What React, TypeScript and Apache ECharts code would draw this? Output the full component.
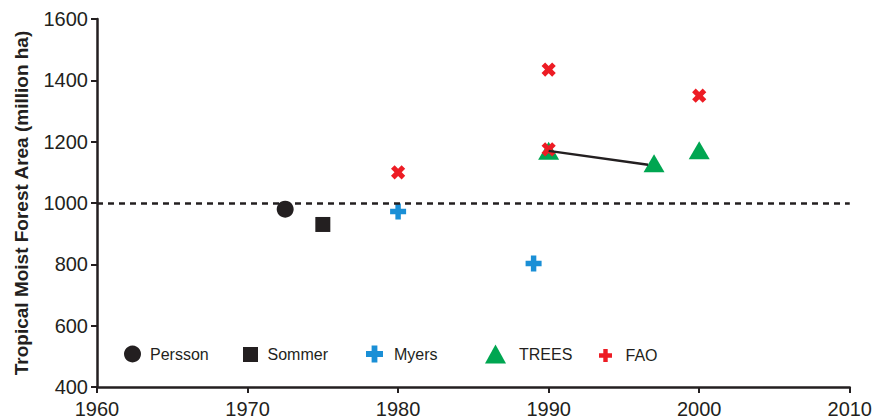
import React, { useEffect, useRef } from "react";
import * as echarts from "echarts";

const xTicks = [1960, 1970, 1980, 1990, 2000, 2010];
const yTicks = [400, 600, 800, 1000, 1200, 1400, 1600];
const seriesNames = ["Persson", "Sommer", "Myers", "TREES", "FAO"];
const persson = [[1972.5, 980]];
const sommer = [[1975, 930]];
const myers = [[1980, 972], [1989, 803]];
const trees = [[1990, 1170], [1997, 1130], [2000, 1172]];
const treesTrend = [[1990, 1170], [1996.6, 1125]];
const fao = [[1980, 1100], [1990, 1435], [1990, 1175], [2000, 1350]];
const referenceLevel = 1000;

const FONT = "'Liberation Sans', Arial, Helvetica, sans-serif";
const INK = "#231f20";
const BLUE = "#1a8fd6";
const GREEN = "#00a651";
const RED = "#ed1c24";
const PLUS = "path://M3.3,0H6.7V3.3H10V6.7H6.7V10H3.3V6.7H0V3.3H3.3Z";

export default function App() {
  const ref = useRef<HTMLDivElement>(null);
  useEffect(() => {
    if (!ref.current) return;
    const chart = echarts.init(ref.current, undefined, { renderer: "svg" });
    const legendText = { fontFamily: FONT, fontSize: 16, color: INK };
    const mkLegend = (name: string, left: number, w: number, h: number, pad: number) => ({
      data: [name],
      left,
      top: 354 - h / 2,
      itemWidth: w,
      itemHeight: h,
      padding: 0,
      selectedMode: false,
      textStyle: { ...legendText, padding: [0, 0, 0, pad] },
    });
    const fmt = (v: number) => String(v);
    chart.setOption({
      animation: false,
      grid: { left: 97, right: 24, top: 19, bottom: 31, containLabel: false },
      legend: [
        mkLegend("Persson", 124, 17, 17, 4),
        mkLegend("Sommer", 243, 15, 15, 4.5),
        mkLegend("Myers", 366, 17, 17, 6),
        mkLegend("TREES", 485, 21, 19, 8),
        mkLegend("FAO", 599, 13, 13, 8.5),
      ],
      xAxis: {
        type: "value",
        min: xTicks[0],
        max: xTicks[xTicks.length - 1],
        interval: 10,
        splitLine: { show: false },
        axisLine: { show: true, lineStyle: { color: INK, width: 2.5 } },
        axisTick: { show: true, length: 6, lineStyle: { color: INK, width: 2 } },
        axisLabel: { fontFamily: FONT, fontSize: 20, color: INK, margin: 12, formatter: fmt },
      },
      yAxis: {
        type: "value",
        min: yTicks[0],
        max: yTicks[yTicks.length - 1],
        interval: 200,
        name: "Tropical Moist Forest Area (million ha)",
        nameLocation: "middle",
        nameGap: 66,
        nameTextStyle: { fontFamily: FONT, fontSize: 19, fontWeight: "bold", color: INK },
        splitLine: { show: false },
        axisLine: { show: true, lineStyle: { color: INK, width: 2.5 } },
        axisTick: { show: true, length: 6, lineStyle: { color: INK, width: 2 } },
        axisLabel: { fontFamily: FONT, fontSize: 20, color: INK, margin: 9, formatter: fmt },
      },
      series: [
        {
          name: "reference",
          type: "line",
          data: [],
          silent: true,
          markLine: {
            silent: true,
            symbol: "none",
            label: { show: false },
            lineStyle: { type: [6, 5], color: INK, width: 2.5 },
            data: [{ yAxis: referenceLevel }],
          },
        },
        {
          name: "trend",
          type: "line",
          data: treesTrend,
          symbol: "none",
          silent: true,
          lineStyle: { color: INK, width: 2.5 },
        },
        {
          name: seriesNames[0],
          type: "scatter",
          data: persson,
          symbol: "circle",
          symbolSize: 17,
          itemStyle: { color: INK, opacity: 1 },
        },
        {
          name: seriesNames[1],
          type: "scatter",
          data: sommer,
          symbol: "rect",
          symbolSize: 15,
          itemStyle: { color: INK, opacity: 1 },
        },
        {
          name: seriesNames[2],
          type: "scatter",
          data: myers,
          symbol: PLUS,
          symbolSize: 16,
          itemStyle: { color: BLUE, opacity: 1 },
        },
        {
          name: seriesNames[3],
          type: "scatter",
          data: trees,
          symbol: "triangle",
          symbolSize: [21, 18],
          itemStyle: { color: GREEN, opacity: 1 },
        },
        {
          name: seriesNames[4],
          type: "scatter",
          data: fao,
          symbol: PLUS,
          symbolRotate: 45,
          symbolSize: 15,
          itemStyle: { color: RED, opacity: 1 },
        },
      ],
    });
    return () => chart.dispose();
  }, []);
  return (
    <div
      ref={ref}
      style={{ position: "fixed", left: 0, top: 0, width: 875, height: 419, background: "#fff" }}
    />
  );
}
